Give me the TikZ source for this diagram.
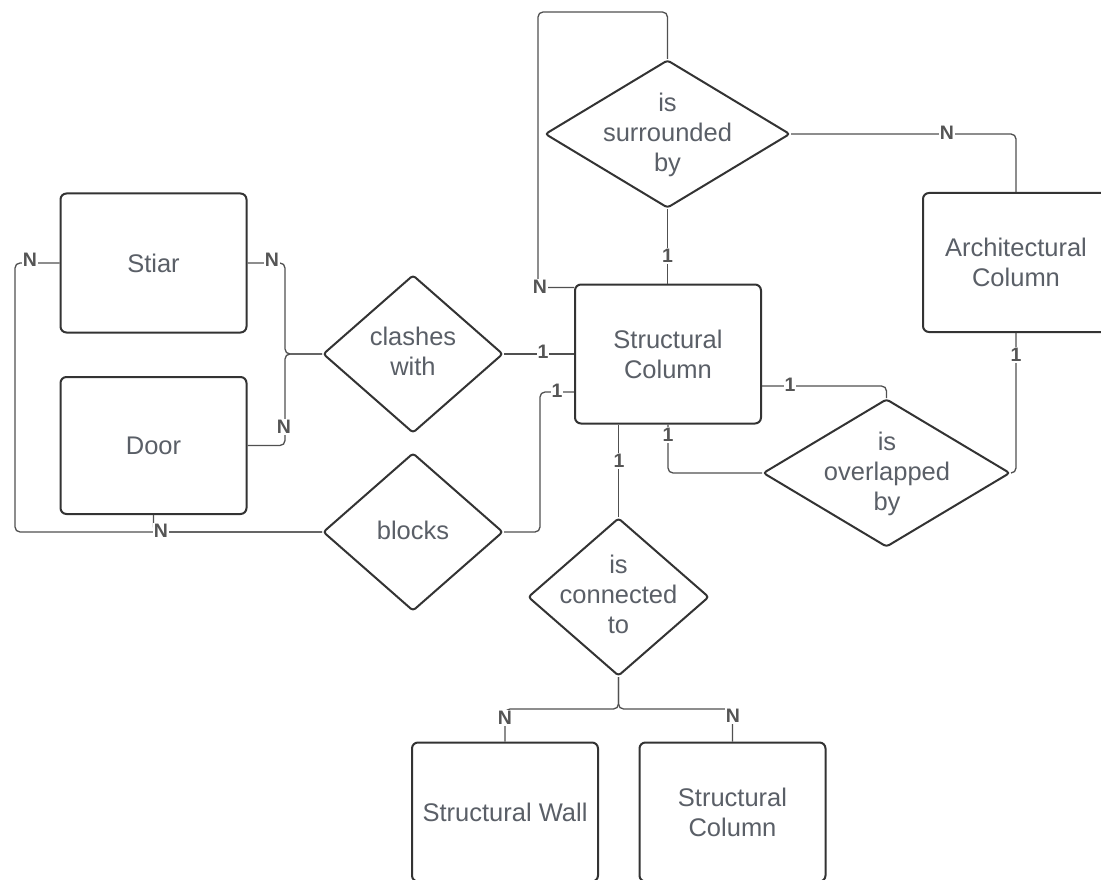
\documentclass[tikz,border=0pt]{standalone}
\usepackage{fontspec}
\setmainfont{Liberation Sans}
\usetikzlibrary{shapes.geometric}
\definecolor{txtcol}{HTML}{5A5F67}
\definecolor{edgecol}{HTML}{333333}
\definecolor{wirecol}{HTML}{505050}
\definecolor{cardcol}{HTML}{555555}

\begin{document}
\begin{tikzpicture}[x=1pt,y=-1pt,
  entity/.style={draw=edgecol, line width=2pt, rounded corners=6pt,
    minimum width=186pt, minimum height=139pt, inner sep=0pt,
    align=center, text=txtcol, font=\fontsize{25.5}{30}\selectfont},
  relation/.style={diamond, draw=edgecol, line width=2pt, rounded corners=3pt,
    inner sep=0pt, aspect=1},
  rtext/.style={align=center, text=txtcol, font=\fontsize{25.5}{30}\selectfont, inner sep=0pt},
  wire/.style={draw=wirecol, line width=1.3pt, rounded corners=5pt},
  card/.style={fill=white, text=cardcol, font=\fontsize{19.5}{20}\selectfont\bfseries, inner sep=1pt},
]
\clip (0,0) rectangle (1101,880);
\useasboundingbox (0,0) rectangle (1101,880);
\fill[white] (0,0) rectangle (1101,880);

% entities
\node[entity] (stiar) at (153.5,263) {Stiar};
\node[entity, minimum height=137pt] (door) at (153.5,445.5) {Door};
\node[entity] (sc) at (668,354) {Structural\\Column};
\node[entity] (arch) at (1016,262.5) {Architectural\\Column};
\node[entity] (wall) at (505,812) {Structural Wall};
\node[entity] (sc2) at (732.5,812) {Structural\\Column};

% relationships
\node[relation, minimum width=180pt, minimum height=158pt] (clash) at (413,354) {};
\node[rtext] (clash-t) at (413,351) {clashes\\with};
\node[relation, minimum width=180pt, minimum height=158pt] (blocks) at (413,532) {};
\node[rtext] (blocks-t) at (413,530) {blocks};
\node[relation, minimum width=245pt, minimum height=148pt] (surr) at (667.5,134) {};
\node[rtext] (surr-t) at (667.5,135) {is\\surrounded\\by};
\node[relation, minimum width=247pt, minimum height=148pt] (over) at (886.5,473) {};
\node[rtext] (over-t) at (887,474) {is\\overlapped\\by};
\node[relation, minimum width=181pt, minimum height=158pt] (conn) at (618.5,597) {};
\node[rtext] (conn-t) at (618.5,594) {is\\connected\\to};

% bend points
\coordinate (jc) at (285,354);
\coordinate (bl) at (15,532);
\coordinate (jb) at (540,392);
\coordinate (lt) at (538,12);
\coordinate (jw) at (618.5,709);

% connectors
\draw[wire] (stiar.east) -| (jc) -- (clash.west);
\draw[wire] (door.east) -| (jc) -- (clash.west);
\draw[wire] (stiar.west) -| (bl) -- (blocks.west);
\draw[wire] (door.south) |- (blocks.west);
\draw[wire] (clash.east) -- (sc.west);
\draw[wire] (blocks.east) -| (jb) -- (jb -| sc.west);
\draw[wire] (surr.north) |- (lt) |- ([yshift=-4pt]sc.north west);
\draw[wire] (surr.south) -- (surr.south |- sc.north);
\draw[wire] (surr.east) -| (arch.north);
\draw[wire] ([yshift=-32pt]sc.east) -| (over.north);
\draw[wire] (sc.south) |- (over.west);
\draw[wire] (arch.south) |- (over.east);
\draw[wire] (sc.south -| conn.north) -- (conn.north);
\draw[wire] (conn.south) -- (jw) -| (wall.north);
\draw[wire] (conn.south) -- (jw) -| (sc2.north);

% cardinalities
\node[card] (c-stiar-r) at (272,260) {N};
\node[card] (c-door-r) at (284,427) {N};
\node[card] (c-stiar-l) at (30,260) {N};
\node[card] (c-door-b) at (161,531) {N};
\node[card] (c-clash) at (543,352) {1};
\node[card] (c-blocks) at (557,391) {1};
\node[card] (c-loop) at (540,287) {N};
\node[card] (c-surr) at (667.5,256) {1};
\node[card] (c-arch-t) at (947,133) {N};
\node[card] (c-over-t) at (790,385) {1};
\node[card] (c-over-l) at (668,435) {1};
\node[card] (c-arch-b) at (1016,355) {1};
\node[card] (c-conn) at (619,461) {1};
\node[card] (c-wall) at (505,718) {N};
\node[card] (c-sc2) at (733,716) {N};
\end{tikzpicture}
\end{document}
